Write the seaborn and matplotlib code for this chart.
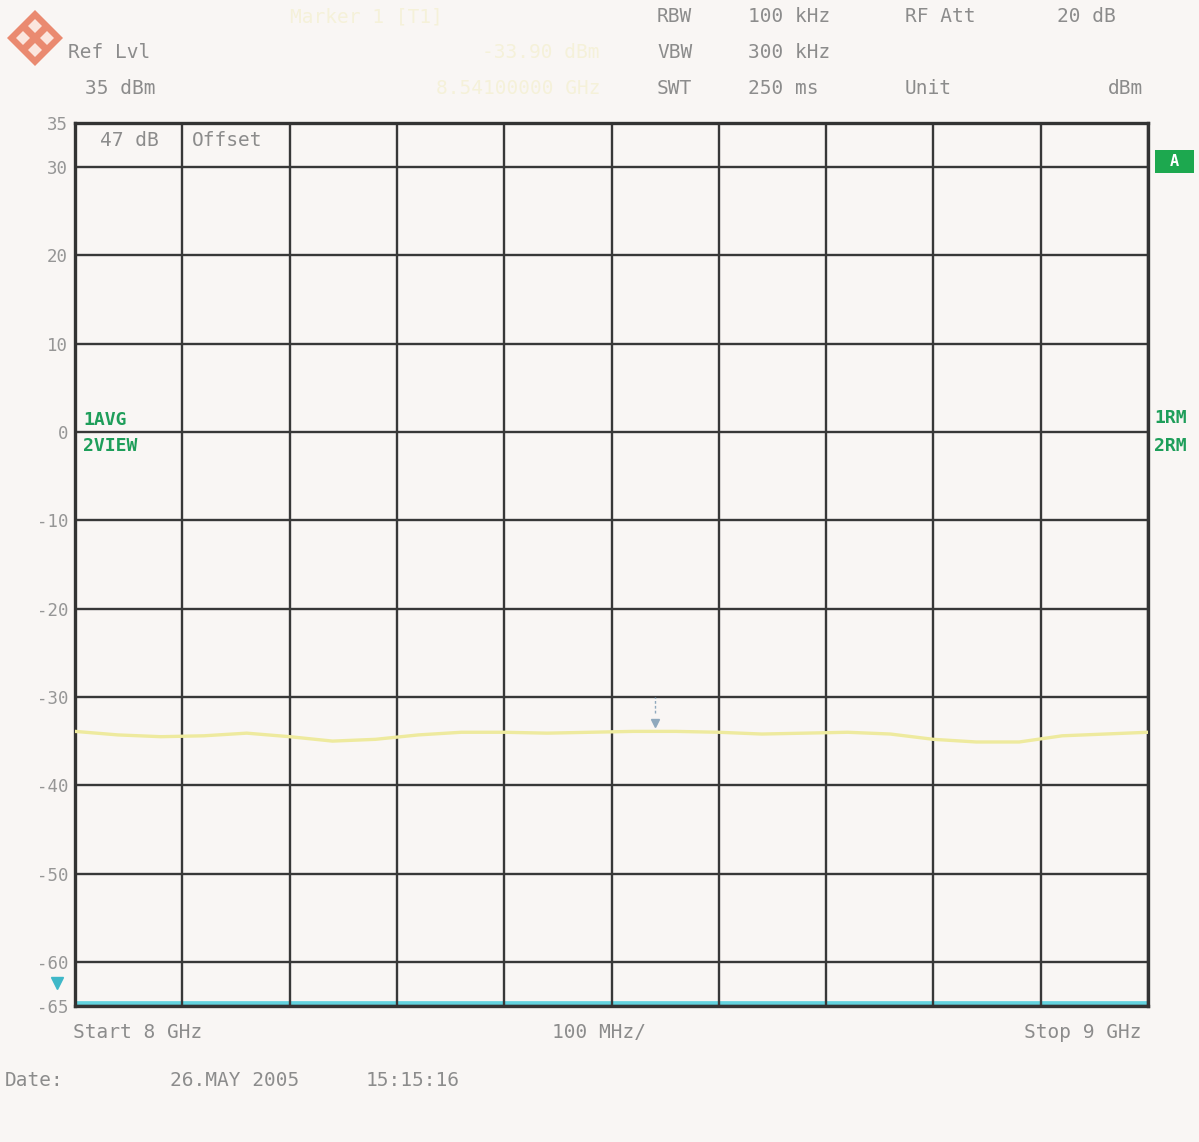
import numpy as np
import pandas as pd
import matplotlib
matplotlib.use("Agg")
import matplotlib.pyplot as plt
import matplotlib.transforms as mtrans
from matplotlib.patches import Polygon, Rectangle
import seaborn as sns

# ---------------- data ----------------
freq_ghz = [8.00, 8.04, 8.08, 8.12, 8.16, 8.20, 8.24, 8.28, 8.32, 8.36, 8.40, 8.44, 8.48,
            8.52, 8.56, 8.60, 8.64, 8.68, 8.72, 8.76, 8.80, 8.84, 8.88, 8.92, 8.96, 9.00]
trace1_dbm = [-33.9, -34.3, -34.5, -34.4, -34.1, -34.5, -35.0, -34.8, -34.3, -34.0, -34.0, -34.1, -34.0,
              -33.9, -33.9, -34.0, -34.2, -34.1, -34.0, -34.2, -34.8, -35.1, -35.1, -34.4, -34.2, -34.0]
trace2_dbm = [-65.0] * len(freq_ghz)
ytick_vals = [35, 30, 20, 10, 0, -10, -20, -30, -40, -50, -60, -65]
ytick_labels = ["35", "30", "20", "10", "0", "-10", "-20", "-30", "-40", "-50", "-60", "-65"]
xtick_vals = [8.0, 8.1, 8.2, 8.3, 8.4, 8.5, 8.6, 8.7, 8.8, 8.9, 9.0]
marker_freq = 8.541
marker_level = -33.9
threshold_level = -62.4

df = pd.DataFrame({"freq": freq_ghz, "t1": trace1_dbm, "t2": trace2_dbm})

# ---------------- figure ----------------
W, H = 1199, 1142
BG = "#f9f6f4"
GRAY = "#8c8c8c"
GREEN = "#1e9e5a"
sns.set_style("white")
plt.rcParams["font.family"] = ["DejaVu Sans Mono", "DejaVu Sans"]

fig = plt.figure(figsize=(W / 100, H / 100), dpi=100, facecolor=BG)
ax = fig.add_axes([75 / W, 1 - 1006 / H, (1148 - 75) / W, (1006 - 123) / H])
ax.set_facecolor(BG)

sns.lineplot(data=df, x="freq", y="t2", ax=ax, color="#63d3df", lw=7, zorder=0.3)
sns.lineplot(data=df, x="freq", y="t1", ax=ax, color="#eeea9e", lw=2.4, zorder=3)

ax.set_xlim(8.0, 9.0)
ax.set_ylim(-65, 35)
ax.set_xticks(xtick_vals)
ax.set_xticklabels([])
ax.set_yticks(ytick_vals)
ax.set_yticklabels(ytick_labels)
ax.set_xlabel("")
ax.set_ylabel("")
ax.tick_params(axis="x", length=0)
ax.tick_params(axis="y", length=3, width=1, color=GRAY, labelcolor="#969696", labelsize=12.5, pad=2)
ax.grid(True, color="#383838", lw=1.7)
ax.set_axisbelow(True)
for s in ax.spines.values():
    s.set_visible(True)
    s.set_color("#333333")
    s.set_linewidth(2.4)

# marker 1
ax.plot([marker_freq], [marker_level + 1.0], marker="v", color="#8fa9bd", ms=6, zorder=4)
ax.plot([marker_freq, marker_freq], [marker_level + 2.1, marker_level + 3.9],
        color="#8fa9bd", lw=1, ls=(0, (2, 1.5)), zorder=4)

# threshold marker left of axis
bt = mtrans.blended_transform_factory(ax.transAxes, ax.transData)
ax.plot([-0.0168], [threshold_level], marker="v", color="#3fb8c8", ms=8, transform=bt, clip_on=False)


def t(x, y, s, color=GRAY, size=14, ha="left", weight="normal"):
    fig.text(x / W, 1 - y / H, s, color=color, fontsize=size, ha=ha, va="center",
             fontweight=weight)


# header
t(68, 52, "Ref Lvl")
t(85, 88, "35 dBm")
t(657, 17, "RBW"); t(748, 17, "100 kHz"); t(905, 17, "RF Att"); t(1057, 17, "20 dB")
t(657, 53, "VBW"); t(748, 53, "300 kHz")
t(657, 89, "SWT"); t(748, 89, "250 ms"); t(905, 89, "Unit"); t(1143, 89, "dBm", ha="right")
FAINT = "#f5f1d9"
t(290, 17, "Marker 1 [T1]", color=FAINT)
t(600, 53, "-33.90 dBm", color=FAINT, ha="right")
t(600, 89, "8.54100000 GHz", color=FAINT, ha="right")

# inside plot
t(100, 141, "47 dB"); t(192, 141, "Offset")
t(83, 420, "1AVG", color=GREEN, size=13, weight="bold")
t(83, 446, "2VIEW", color=GREEN, size=13, weight="bold")
t(1154, 418, "1RM", color=GREEN, size=13, weight="bold")
t(1154, 446, "2RM", color=GREEN, size=13, weight="bold")

# green "A" box
fig.patches.append(Rectangle((1155 / W, 1 - 173 / H), 39 / W, 23 / H, transform=fig.transFigure,
                             facecolor="#1da84f", edgecolor="none"))
t(1174.5, 161.5, "A", color="white", size=11, ha="center", weight="bold")

# footer
t(73, 1033, "Start 8 GHz")
t(552, 1033, "100 MHz/")
t(1142, 1033, "Stop 9 GHz", ha="right")
t(5, 1081, "Date:")
t(170, 1081, "26.MAY 2005")
t(366, 1081, "15:15:16")

# logo (diamond)
cx, cy, r = 35, 38, 28
pts = [((cx) / W, 1 - (cy - r) / H), ((cx + r) / W, 1 - cy / H),
       ((cx) / W, 1 - (cy + r) / H), ((cx - r) / W, 1 - cy / H)]
fig.patches.append(Polygon(pts, closed=True, transform=fig.transFigure,
                           facecolor="#ea8a70", edgecolor="none"))
for (dx, dy) in [(0, -12), (12, 0), (0, 12), (-12, 0)]:
    rr = 7
    px, py = cx + dx, cy + dy
    p2 = [((px) / W, 1 - (py - rr) / H), ((px + rr) / W, 1 - py / H),
          ((px) / W, 1 - (py + rr) / H), ((px - rr) / W, 1 - py / H)]
    fig.patches.append(Polygon(p2, closed=True, transform=fig.transFigure,
                               facecolor="#fbe6de", edgecolor="none"))

fig.savefig("out.png", dpi=100, facecolor=BG)
